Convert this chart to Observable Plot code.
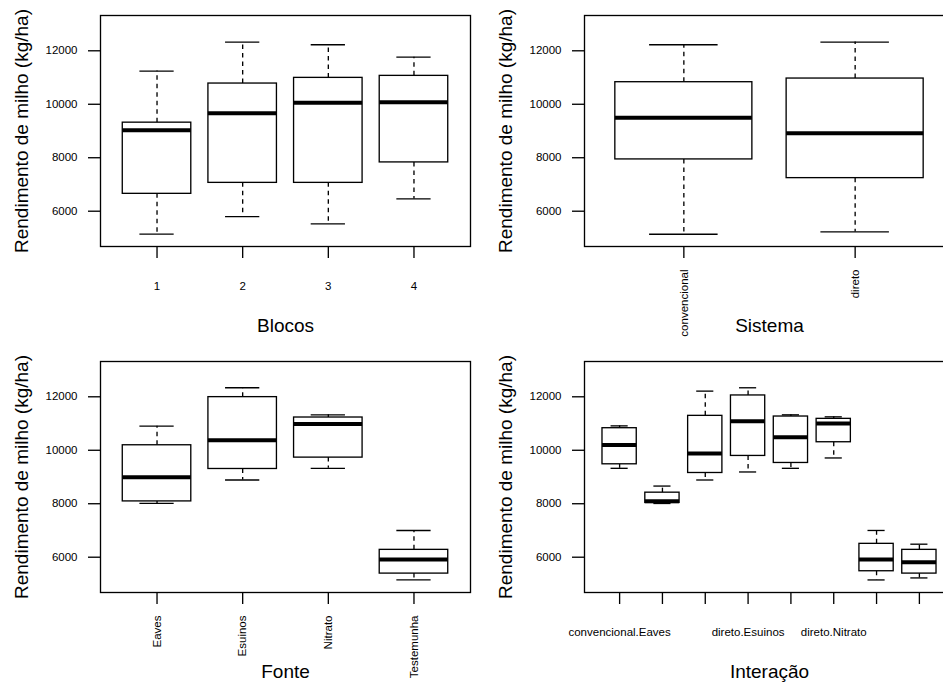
<!DOCTYPE html>
<html>
<head>
<meta charset="utf-8">
<script src="https://cdn.jsdelivr.net/npm/d3@7"></script>
<script src="https://cdn.jsdelivr.net/npm/@observablehq/plot@0.6"></script>
<style>
  html, body { margin: 0; padding: 0; background: #fff; }
  #fig { position: relative; width: 943px; height: 682px; overflow: hidden; background: #fff; }
  #fig > svg, #fig > figure { position: absolute; margin: 0; }
</style>
</head>
<body>
<div id="fig"></div>
<script>
// Shared y axis
const yLabel = "Rendimento de milho (kg/ha)";
const yTicks = [6000, 8000, 10000, 12000];
const yLimits = [5000, 13000];

// Blocos
const blocosLevels = ["1", "2", "3", "4"];
const blocosMin    = [5140, 5800, 5525, 6460];
const blocosQ1     = [6650, 7060, 7060, 7825];
const blocosMedian = [9030, 9660, 10060, 10075];
const blocosQ3     = [9312, 10775, 10987, 11062];
const blocosMax    = [11240, 12325, 12225, 11762];

// Sistema
const sistemaLevels = ["convencional", "direto"];
const sistemaMin    = [5137, 5225];
const sistemaQ1     = [7937, 7237];
const sistemaMedian = [9500, 8912];
const sistemaQ3     = [10825, 10962];
const sistemaMax    = [12225, 12325];

// Fonte
const fonteLevels = ["Eaves", "Esuinos", "Nitrato", "Testemunha"];
const fonteMin    = [8012, 8887, 9325, 5150];
const fonteQ1     = [8087, 9300, 9725, 5387];
const fonteMedian = [8987, 10375, 10987, 5912];
const fonteQ3     = [10187, 11987, 11225, 6275];
const fonteMax    = [10900, 12337, 11325, 7000];

// Interação (Sistema x Fonte)
const interacaoLevels = [
  "convencional.Eaves", "direto.Eaves",
  "convencional.Esuinos", "direto.Esuinos",
  "convencional.Nitrato", "direto.Nitrato",
  "convencional.Testemunha", "direto.Testemunha"
];
const interacaoMin    = [9325, 8010, 8888, 9188, 9325, 9712, 5150, 5225];
const interacaoQ1     = [9475, 8030, 9150, 9788, 9525, 10300, 5475, 5387];
const interacaoMedian = [10200, 8095, 9875, 11088, 10487, 11000, 5912, 5812];
const interacaoQ3     = [10825, 8414, 11287, 12050, 11262, 11175, 6500, 6275];
const interacaoMax    = [10912, 8661, 12212, 12337, 11325, 11250, 7000, 6487];

const FONT = "'Liberation Sans', Arial, Helvetica, sans-serif";
const TICK_FONT = 11.5;
const TITLE_FONT = 19;
const LWD = 1.33;

const W = 484, H = 346;
const M = {left: 100, right: 14, top: 15, bottom: 100};

// Horizontal tick labels are dropped when they would collide with the
// previously drawn one (gap of one "m"), as base graphics axes do.
const ctx = document.createElement("canvas").getContext("2d");
ctx.font = `${TICK_FONT}px ${FONT}`;
function visibleLabels(levels, pxPerUnit) {
  const gap = ctx.measureText("m").width;
  let lastRight = -Infinity;
  return levels.map((s, i) => {
    const w = ctx.measureText(s).width;
    const c = (i + 1) * pxPerUnit;
    if (c - w / 2 > lastRight + gap) { lastRight = c + w / 2; return s; }
    return "";
  });
}

function panel({levels, min, q1, median, q3, max, title, rotate, left, top}) {
  const n = levels.length;
  const stats = levels.map((name, i) => ({
    pos: i + 1, name, min: min[i], q1: q1[i], median: median[i], q3: q3[i], max: max[i]
  }));
  const xPad = 0.04 * n;
  const xDomain = [0.5 - xPad, n + 0.5 + xPad];
  const yPad = 0.04 * (yLimits[1] - yLimits[0]);
  const yDomain = [yLimits[0] - yPad, yLimits[1] + yPad];
  const pxPerUnit = (W - M.left - M.right) / (xDomain[1] - xDomain[0]);
  const shown = rotate ? levels : visibleLabels(levels, pxPerUnit);

  const chart = Plot.plot({
    width: W, height: H,
    marginLeft: M.left, marginRight: M.right, marginTop: M.top, marginBottom: M.bottom,
    style: {fontFamily: FONT, background: "transparent", color: "#000", overflow: "visible"},
    x: {type: "linear", domain: xDomain, axis: null},
    y: {domain: yDomain, axis: null},
    marks: [
      // whiskers (dashed), from the box outwards
      Plot.ruleX(stats, {x: "pos", y1: "q3", y2: "max", stroke: "#000", strokeWidth: LWD, strokeDasharray: "4.5,4"}),
      Plot.ruleX(stats, {x: "pos", y1: "q1", y2: "min", stroke: "#000", strokeWidth: LWD, strokeDasharray: "4.5,4"}),
      // staples
      Plot.ruleY(stats, {y: "max", x1: d => d.pos - 0.2, x2: d => d.pos + 0.2, stroke: "#000", strokeWidth: LWD}),
      Plot.ruleY(stats, {y: "min", x1: d => d.pos - 0.2, x2: d => d.pos + 0.2, stroke: "#000", strokeWidth: LWD}),
      // boxes
      Plot.rect(stats, {x1: d => d.pos - 0.4, x2: d => d.pos + 0.4, y1: "q1", y2: "q3",
        fill: "white", stroke: "#000", strokeWidth: LWD}),
      // medians
      Plot.ruleY(stats, {y: "median", x1: d => d.pos - 0.4, x2: d => d.pos + 0.4, stroke: "#000", strokeWidth: 4}),
      Plot.frame({stroke: "#000", strokeWidth: LWD}),
      Plot.axisY({ticks: yTicks, tickSize: 12, tickPadding: 11, fontSize: TICK_FONT,
        tickFormat: d => String(d), label: null, strokeWidth: LWD}),
      Plot.axisX({ticks: d3.range(1, n + 1), tickSize: 12, tickPadding: rotate ? 11 : 23,
        tickRotate: rotate ? -90 : 0, fontSize: TICK_FONT,
        tickFormat: d => shown[d - 1], label: null, strokeWidth: LWD}),
      Plot.text([title], {frameAnchor: "bottom", dy: 85, fontSize: TITLE_FONT, text: d => d}),
      Plot.text([yLabel], {frameAnchor: "left", textAnchor: "middle", dx: -79, rotate: -90,
        fontSize: TITLE_FONT, text: d => d})
    ]
  });
  chart.style.left = left + "px";
  chart.style.top = top + "px";
  document.getElementById("fig").appendChild(chart);
}

panel({levels: blocosLevels, min: blocosMin, q1: blocosQ1, median: blocosMedian, q3: blocosQ3, max: blocosMax,
  title: "Blocos", rotate: false, left: 0, top: 0});
panel({levels: sistemaLevels, min: sistemaMin, q1: sistemaQ1, median: sistemaMedian, q3: sistemaQ3, max: sistemaMax,
  title: "Sistema", rotate: true, left: 483.7, top: 0});
panel({levels: fonteLevels, min: fonteMin, q1: fonteQ1, median: fonteMedian, q3: fonteQ3, max: fonteMax,
  title: "Fonte", rotate: true, left: 0, top: 346});
panel({levels: interacaoLevels, min: interacaoMin, q1: interacaoQ1, median: interacaoMedian, q3: interacaoQ3, max: interacaoMax,
  title: "Interação", rotate: false, left: 483.7, top: 346});
</script>
</body>
</html>
